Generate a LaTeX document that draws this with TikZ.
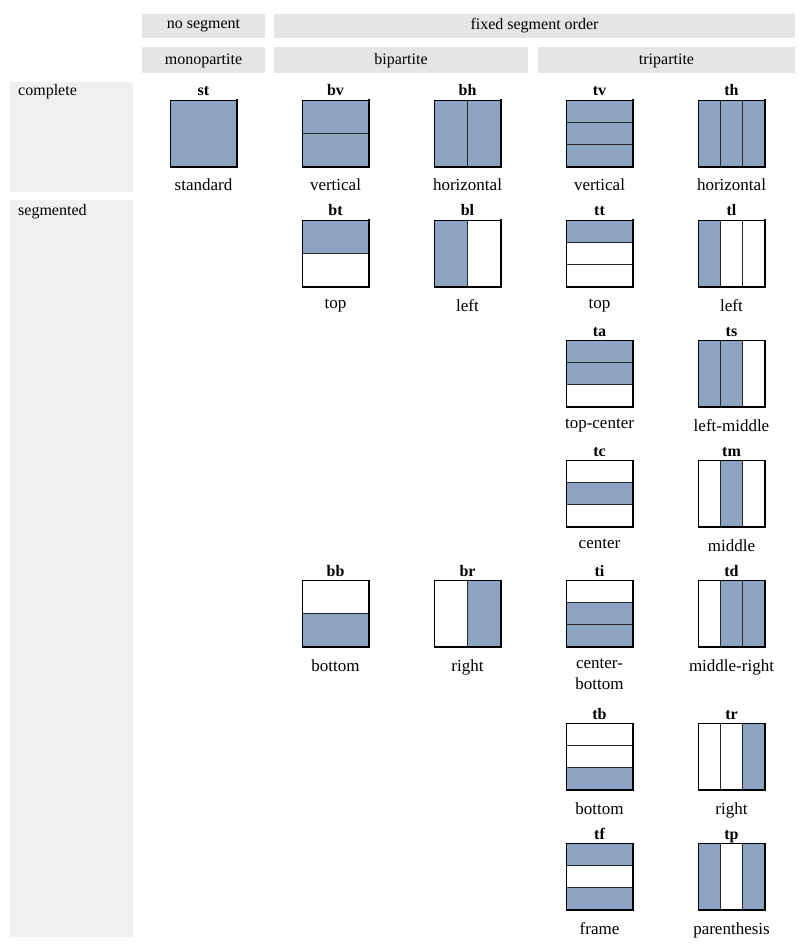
\documentclass[tikz,border=0pt]{standalone}
\usepackage{fontspec}
\setmainfont{Liberation Serif}
\begin{document}
\begin{tikzpicture}[x=1pt,y=-1pt,
  captxt/.style={anchor=north,font=\fontsize{17}{19}\selectfont,align=center,inner sep=0pt},
  lab/.style={anchor=base,font=\bfseries\fontsize{16}{18}\selectfont,inner sep=0pt},
  hdrtxt/.style={font=\fontsize{16}{18}\selectfont},
  sqbox/.style={minimum size=67pt,inner sep=0pt,draw=none}]
\useasboundingbox (0,0) rectangle (806,949);
\definecolor{blu}{HTML}{8CA3C2}
% headers
\fill[black!10] (142,14) rectangle (265,38);
\node[hdrtxt] (h1) at (203.5,26) {no segment};
\fill[black!10] (274,14) rectangle (795,38);
\node[hdrtxt] (h2) at (534.5,26) {fixed segment order};
\fill[black!10] (142,47) rectangle (265,73);
\node[hdrtxt] (h3) at (203.5,61) {monopartite};
\fill[black!10] (274,47) rectangle (528,73);
\node[hdrtxt] (h4) at (401,61) {bipartite};
\fill[black!10] (538,47) rectangle (795,73);
\node[hdrtxt] (h5) at (666.5,61) {tripartite};
\fill[black!6] (10,82) rectangle (133,192);
\fill[black!6] (10,200) rectangle (133,937);
\node[anchor=base west,font=\fontsize{16}{18}\selectfont,inner sep=0pt] (c1) at (18,96) {complete};
\node[anchor=base west,font=\fontsize{16}{18}\selectfont,inner sep=0pt] (c2) at (18,216) {segmented};
% cell macro: name, x, ytop, dir, fills, caption
\newcommand\sqcell[6]{%
  \node[sqbox] (#1) at (#2+33.5,#3+33.5) {};
  \begin{scope}[shift={(#2,#3)}]
    \foreach \f [count=\i] in {#5} {\xdef\nparts{\i}}%
    \foreach \f [count=\i] in {#5} {%
      \pgfmathsetmacro\a{67*(\i-1)/\nparts}%
      \pgfmathsetmacro\b{67*\i/\nparts}%
      \ifnum\f=1
        \if v#4 \fill[blu] (0,\a) rectangle (67,\b);\else \fill[blu] (\a,0) rectangle (\b,67);\fi
      \fi
      \ifnum\i>1
        \if v#4 \draw[line width=0.7pt,black!85] (0,\a) -- (67,\a);\else \draw[line width=0.7pt,black!85] (\a,0) -- (\a,67);\fi
      \fi
    }
    \draw[line width=0.9pt] (0,67) -- (0,0) -- (67,0);
    \draw[line width=1.8pt] (67,-0.5) -- (67,67) -- (-0.5,67);
  \end{scope}
  \node[lab] (#1l) at (#2+33.5,#3-4) {#1};
  \node[captxt] (#1c) at (#2+33.5,#3+79) {#6};
}
\sqcell{st}{170}{100}{v}{1}{standard}
\sqcell{bv}{302}{100}{v}{1,1}{vertical}
\sqcell{bh}{434}{100}{h}{1,1}{horizontal}
\sqcell{tv}{566}{100}{v}{1,1,1}{vertical}
\sqcell{th}{698}{100}{h}{1,1,1}{horizontal}
\sqcell{bt}{302}{220}{v}{1,0}{top}
\sqcell{bl}{434}{220}{h}{1,0}{left}
\sqcell{tt}{566}{220}{v}{1,0,0}{top}
\sqcell{tl}{698}{220}{h}{1,0,0}{left}
\sqcell{ta}{566}{340}{v}{1,1,0}{top-center}
\sqcell{ts}{698}{340}{h}{1,1,0}{left-middle}
\sqcell{tc}{566}{460}{v}{0,1,0}{center}
\sqcell{tm}{698}{460}{h}{0,1,0}{middle}
\sqcell{bb}{302}{580}{v}{0,1}{bottom}
\sqcell{br}{434}{580}{h}{0,1}{right}
\sqcell{ti}{566}{580}{v}{0,1,1}{center-\\[2pt]bottom}
\sqcell{td}{698}{580}{h}{0,1,1}{middle-right}
\sqcell{tb}{566}{723}{v}{0,0,1}{bottom}
\sqcell{tr}{698}{723}{h}{0,0,1}{right}
\sqcell{tf}{566}{843}{v}{1,0,1}{frame}
\sqcell{tp}{698}{843}{h}{1,0,1}{parenthesis}
\end{tikzpicture}
\end{document}
